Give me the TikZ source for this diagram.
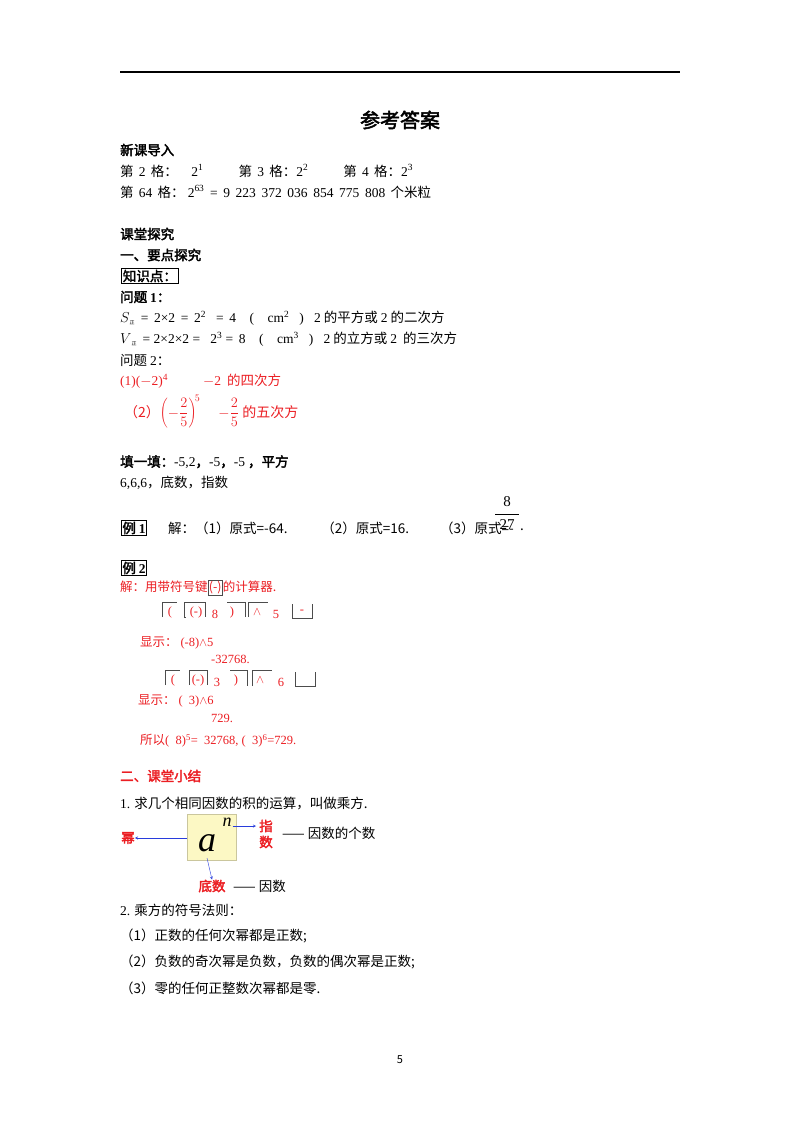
\documentclass[tikz,border=0pt]{standalone}
\usepackage{fontspec}
\setmainfont{Noto Sans CJK SC}
\newfontfamily\cjkb[FakeBold=2.5]{Noto Sans CJK SC}
\newfontfamily\ser{Liberation Serif}
\newcommand\zh{\rmfamily}
\definecolor{rd}{RGB}{235,30,35}
\definecolor{ylw}{RGB}{252,248,196}
\definecolor{blu}{RGB}{40,60,220}
\begin{document}
\begin{tikzpicture}[x=1pt,y=-1pt,
  t/.style={anchor=west,inner sep=0pt,font=\fontsize{13.5}{15}\selectfont},
  b/.style={t,font=\fontsize{13.5}{15}\selectfont\cjkb},
  r/.style={t,text=rd},
  key/.style={draw=black!70,thin,inner sep=1pt}]
\useasboundingbox (0,0) rectangle (800,1132);
\draw[line width=1.2pt] (120,72) -- (680,72);
\node[inner sep=0pt,font=\fontsize{20}{22}\selectfont\cjkb] (title) at (400,120) {参考答案};
\node[b] (h1) at (120,150) {新课导入};
\node[t] (l1) at (120,171) {第 \,{\ser 2}\, 格：\hspace{1em}{\ser 2\textsuperscript{1}}\hspace{2.6em}第 \,{\ser 3}\, 格：{\ser 2\textsuperscript{2}}\hspace{2.6em}第 \,{\ser 4}\, 格：{\ser 2\textsuperscript{3}}};
\node[t] (l2) at (120,192) {第 \,{\ser 64}\, 格：\ {\ser 2\textsuperscript{63} \,=\, 9 \,223 \,372 \,036 \,854 \,775 \,808} \,个米粒};
\node[b] (h2) at (120,234) {课堂探究};
\node[b] (h3) at (120,255) {一、要点探究};
\node[b,draw,inner sep=1.5pt,line width=0.8pt] (zs) at (121,276) {知识点：};
\node[b] (q1) at (120,297) {问题 {\ser\bfseries 1}：};
\node[t] (s) at (120,318) {{\ser $S$\textsubscript{\tiny\zh 正} \,= \,2×2 \,= \,2\textsuperscript{2} \ \ = \,4 \ \ \ ( \ \ \ cm\textsuperscript{2} \ \ ) \ \ 2} 的平方或 {\ser 2} 的二次方};
\node[t] (v) at (120,339) {{\ser $V$\textsubscript{\tiny\zh 正} \,= 2×2×2 = \ \ 2\textsuperscript{3} = \,8 \ \ \ ( \ \ \ cm\textsuperscript{3} \ \ ) \ \ 2} 的立方或 {\ser 2} \ 的三次方};
\node[t] (q2) at (120,360) {问题 {\ser 2}：};
\node[r] (p1) at (120,381) {{\ser (1)($-$2)\textsuperscript{4}}\hspace{2.6em}{\ser $-$2} \ 的四次方};
\node[r,font=\fontsize{14}{16}\selectfont] (p2) at (124,412) {（2）{\ser\Large $\left(-\displaystyle\frac{2}{5}\right)^{\!5}$}\hspace{1.3em}{\ser\Large $-\displaystyle\frac{2}{5}$} 的五次方};
\node[b] (fill) at (120,462) {填一填：{\ser -5,2}，{\ser -5}，{\ser -5} ，平方};
\node[t] (fill2) at (120,483) {{\ser 6,6,6}，底数，指数};
\node[b,draw,inner sep=1pt,line width=0.8pt] (e1) at (121,528) {例 {\ser\bfseries 1}};
\node[t] (e1t) at (168,528) {解：（1）原式=-64. \hspace{2.2em}（2）原式=16. \hspace{2em}（3）原式=-};
\node[inner sep=0pt,font=\fontsize{15}{16}\selectfont\ser] (f8) at (507,502) {8};
\node[inner sep=0pt,font=\fontsize{15}{16}\selectfont\ser] (f27) at (507,525) {27};
\draw (495,514) -- (519,514);
\node[t] (dot) at (520,530) {.};
\node[b,draw,inner sep=1pt,line width=0.8pt] (e2) at (121,568) {例 {\ser\bfseries 2}};
\begin{scope}[every node/.style={r,font=\fontsize{12.5}{14}\selectfont}]
\node (j) at (120,588) {解：用带符号键\tikz[baseline=(k.base)]\node[key,draw=black!70,text=rd] (k) {(-)};的计算器.};
\node (d1) at (140,643) {显示：\ {\ser (-8)$\wedge$5}};
\node (d1b) at (211,659) {\ser -32768.};
\node (d2) at (138,701) {显示：\ {\ser ( \ 3)$\wedge$6}};
\node (d2b) at (211,718) {\ser 729.};
\node (so) at (140,741) {所以{\ser ( \ 8)\textsuperscript{5}= \ 32768, ( \ 3)\textsuperscript{6}=729.}};
\end{scope}
\begin{scope}[every node/.style={inner sep=0pt,text=rd,font=\fontsize{12.5}{14}\selectfont\ser}]
\node (a1) at (170,612) {(}; \node (a2) at (196,612) {(-)}; \node (a3) at (215,614) {8};
\node (a4) at (232,612) {)}; \node (a5) at (257,612) {$\wedge$}; \node (a6) at (276,614) {5}; \node (a7) at (302,612) {-};
\node (b1) at (173,680) {(}; \node (b2) at (198,680) {(-)}; \node (b3) at (217,682) {3};
\node (b4) at (236,680) {)}; \node (b5) at (260,680) {$\wedge$}; \node (b6) at (281,682) {6};
\end{scope}
\begin{scope}[draw=black!70,thin]
\draw (162,617)--(162,602)--(177,602);
\draw (184,617)--(184,602)--(205,602)--(205,617); \draw (184,617)--(186,617);
\draw (227,602)--(245,602)--(245,617);
\draw (248,617)--(248,602)--(268,602);
\draw (292,604)--(292,618)--(312,618)--(312,604);
\draw (165,685)--(165,670)--(180,670);
\draw (189,685)--(189,670)--(207,670)--(207,685);
\draw (230,670)--(247,670)--(247,686);
\draw (252,686)--(252,670)--(272,670);
\draw (295,672)--(295,686)--(315,686)--(315,672);
\end{scope}
\node[t,text=rd,font=\fontsize{13.5}{15}\selectfont\cjkb] (h4) at (120,776) {二、课堂小结};
\node[t] (c1) at (120,804) {{\ser 1.} 求几个相同因数的积的运算，叫做乘方.};
\node[fill=ylw,draw=ylw!80!black,minimum width=49pt,minimum height=46pt,inner sep=0pt] (box) at (212,837) {};
\node[inner sep=0pt,font=\fontsize{36}{36}\selectfont\ser\itshape] (a) at (207,843) {a};
\node[inner sep=0pt,font=\fontsize{18}{18}\selectfont\ser\itshape] (n) at (227,822) {n};
\node[inner sep=0pt,text=rd,font=\fontsize{13.5}{15}\selectfont\cjkb] (mi) at (128,838) {幂};
\node[inner sep=0pt,text=rd,font=\fontsize{13.5}{15}\selectfont\cjkb,align=center] (zhi) at (266,834) {指\\[1pt]数};
\node[t] (zhit) at (282,833) {—— 因数的个数};
\node[inner sep=0pt,text=rd,font=\fontsize{13.5}{15}\selectfont\cjkb] (di) at (212,886) {底数};
\node[t] (dit) at (233,886) {—— 因数};
\draw[blu,-stealth] (box.west|-mi) -- (mi.east);
\draw[blu,-stealth] (n.east|-zhi) ++(1,-8) coordinate (ns) -- (256,826);
\draw[blu,-stealth] (207,858) -- (di.north);
\node[t] (c2) at (120,910) {{\ser 2.} 乘方的符号法则：};
\node[t] (r1) at (120,936) {（1）正数的任何次幂都是正数;};
\node[t] (r2) at (120,962) {（2）负数的奇次幂是负数，负数的偶次幂是正数;};
\node[t] (r3) at (120,988) {（3）零的任何正整数次幂都是零.};
\node[inner sep=0pt,font=\fontsize{11}{12}\selectfont] (pg) at (400,1060) {5};
\end{tikzpicture}
\end{document}
